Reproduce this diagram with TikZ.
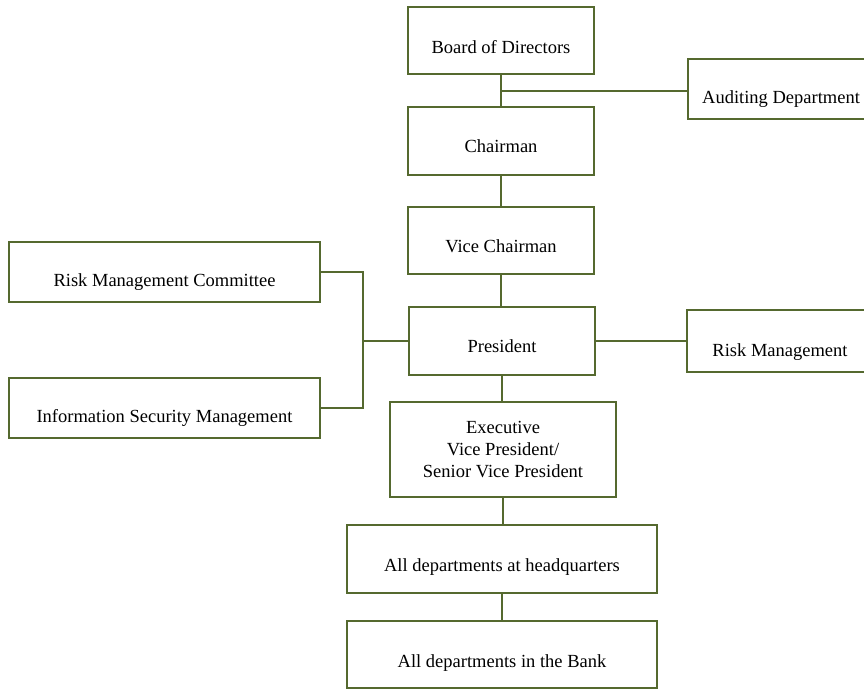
\documentclass[tikz,border=0pt]{standalone}
\usepackage{fontspec}
\setmainfont{Liberation Serif}
\definecolor{olv}{HTML}{55692F}
\begin{document}
\begin{tikzpicture}[x=1pt,y=-1pt,
  box/.style={draw=olv,line width=1.8pt,fill=white,inner sep=0pt,font=\fontsize{18.5}{22}\selectfont,align=center},
  tb/.style={text height=#1,text depth=0pt},
  conn/.style={draw=olv,line width=2pt}]
\useasboundingbox (0,0) rectangle (864,689);
\node[box,minimum width=186pt,minimum height=67pt,tb=25pt] (board) at (501,40.5) {Board of Directors};
\node[box,minimum width=186pt,minimum height=68pt,tb=22pt] (chair) at (501,141) {Chairman};
\node[box,minimum width=186pt,minimum height=67pt,tb=23pt] (vice) at (501,240.5) {Vice Chairman};
\node[box,minimum width=186pt,minimum height=68pt,tb=22pt] (pres) at (502,341) {President};
\node[box,minimum width=226pt,minimum height=95pt] (evp) at (503,449.5) {Executive\\Vice President/\\Senior Vice President};
\node[box,minimum width=310pt,minimum height=68pt,tb=24pt] (hq) at (502,559) {All departments at headquarters};
\node[box,minimum width=310pt,minimum height=67pt,tb=25pt] (bank) at (502,654.5) {All departments in the Bank};
\node[box,minimum width=186pt,minimum height=60pt,tb=28pt] (audit) at (781,89) {Auditing Department};
\node[box,minimum width=186pt,minimum height=62pt,tb=30pt] (riskm) at (780,341) {Risk Management};
\node[box,minimum width=311pt,minimum height=60pt,tb=29pt] (rmc) at (164.5,272) {Risk Management Committee};
\node[box,minimum width=311pt,minimum height=60pt,tb=29pt] (isec) at (164.5,408) {Information Security Management};
\coordinate (ja) at (501,91);
\coordinate (jb) at (363,341);
\draw[conn] (board.south) -- (chair.north);
\draw[conn] (ja) -- (ja -| audit.west);
\draw[conn] (chair.south) -- (vice.north);
\draw[conn] (vice.south) -- (vice.south |- pres.north);
\draw[conn] (pres.south) -- (pres.south |- evp.north);
\draw[conn] (evp.south) -- (evp.south |- hq.north);
\draw[conn] (hq.south) -- (hq.south |- bank.north);
\draw[conn] (pres.east) -- (pres.east -| riskm.west);
\draw[conn] (rmc.east) -| (jb) |- (isec.east);
\draw[conn] (jb) -- (pres.west);
\end{tikzpicture}
\end{document}
